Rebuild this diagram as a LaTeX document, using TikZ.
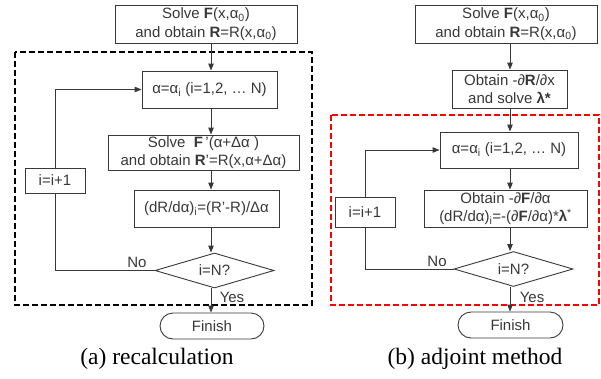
\documentclass[tikz,border=0pt]{standalone}
\usepackage{fontspec}
\setmainfont{Liberation Sans}
\newfontfamily\capfont{Liberation Serif}
\usetikzlibrary{arrows.meta,shapes.geometric,shapes.misc}
\definecolor{ink}{gray}{0.22}
\newcommand\lo[1]{\textsubscript{#1}}
\newcommand\hi[1]{\textsuperscript{#1}}
\begin{document}
\begin{tikzpicture}[x=1pt,y=-1pt,
  every node/.style={text=ink, font=\fontsize{15}{18.5}\selectfont, inner sep=0pt},
  box/.style={draw=ink, line width=0.9pt, align=center},
  arr/.style={draw=ink, line width=0.9pt, -{Triangle[length=7pt,width=5.5pt]}},
  ln/.style={draw=ink, line width=0.9pt},
  frame/.style={line width=1.7pt, dash pattern=on 6pt off 3pt},
  test/.style={draw=ink, line width=0.9pt, diamond, aspect=3.4, minimum width=119pt, minimum height=35pt},
  stop/.style={draw=ink, line width=0.9pt, rounded rectangle, minimum width=104pt, minimum height=26pt},
  subcap/.style={font=\capfont\fontsize{23.5}{25}\selectfont, text=black}]
\useasboundingbox (0,0) rectangle (601,378);

% ---------- (a) recalculation ----------
\draw[frame, black] (15,52) rectangle (312,305);
\coordinate (col1) at (211,0);
\node[box, minimum width=182pt, minimum height=38pt] (top1) at (206,24)
  {Solve \textbf{F}(x,α\lo{0})\\and obtain \textbf{R}=R(x,α\lo{0})};
\node[box, minimum width=135pt, minimum height=37pt] (a1) at (209.5,89.5)
  {α=α\lo{i} (i=1,2, … N)};
\node[box, minimum width=191pt, minimum height=35pt] (s1) at (203.5,152.5)
  {Solve~ \textbf{F}\,’(α+Δα )\\and obtain \textbf{R}’=R(x,α+Δα)};
\node[box, minimum width=145pt, minimum height=37pt] (d1) at (206.5,208.5)
  {(dR/dα)\lo{i}=(R'-R)/Δα};
\node[test] (q1) at (214.5,270.5) {i=N?};
\node[stop] (f1) at (212,326) {Finish};
\node[box, minimum width=60pt, minimum height=25pt] (inc1) at (55,180.5) {i=i+1};

\draw[arr] (top1.south -| col1) -- (a1.north -| col1);
\draw[arr] (a1.south -| col1) -- (s1.north -| col1);
\draw[arr] (s1.south -| col1) -- (d1.north -| col1);
\draw[arr] (d1.south -| col1) -- (q1.north -| col1);
\draw[arr] (q1.south -| col1) -- (f1.north -| col1);
\draw[ln] (inc1.south) |- (q1.west);
\draw[arr] (inc1.north) |- (a1.west);
\node (no1) at (137,262) {No};
\node (yes1) at (232,297) {Yes};
\node[subcap] (c1) at (157,359) {(a) recalculation};

% ---------- (b) adjoint method ----------
\draw[frame, red] (331,115) rectangle (599,305);
\coordinate (col2) at (510,0);
\node[box, minimum width=182pt, minimum height=38pt] (top2) at (506,24)
  {Solve \textbf{F}(x,α\lo{0})\\and obtain \textbf{R}=R(x,α\lo{0})};
\node[box, minimum width=115pt, minimum height=38pt] (ob2) at (509.5,89)
  {Obtain -\textit{∂}\textbf{R}/\textit{∂}x\\and solve \textbf{λ*}};
\node[box, minimum width=138pt, minimum height=36pt] (a2) at (509,150)
  {α=α\lo{i} (i=1,2, … N)};
\node[box, minimum width=163pt, minimum height=37pt] (o2) at (505.5,208.5)
  {Obtain -\textit{∂}\textbf{F}/\textit{∂}α\\(dR/dα)\lo{i}=-(\textit{∂}\textbf{F}/\textit{∂}α)*\textbf{λ}\hi{*}};
\node[test] (q2) at (513.5,269) {i=N?};
\node[stop, minimum width=105pt] (f2) at (510.5,325) {Finish};
\node[box, minimum width=60pt, minimum height=30pt] (inc2) at (365,212) {i=i+1};

\draw[arr] (top2.south -| col2) -- (ob2.north -| col2);
\draw[arr] (ob2.south -| col2) -- (a2.north -| col2);
\draw[arr] (a2.south -| col2) -- (o2.north -| col2);
\draw[arr] (o2.south -| col2) -- (q2.north -| col2);
\draw[arr] (q2.south -| col2) -- (f2.north -| col2);
\draw[ln] (inc2.south) |- (q2.west);
\draw[arr] (inc2.north) |- (a2.west);
\node (no2) at (437,261) {No};
\node (yes2) at (532,297) {Yes};
\node[subcap] (c2) at (475,359) {(b) adjoint method};
\end{tikzpicture}
\end{document}
